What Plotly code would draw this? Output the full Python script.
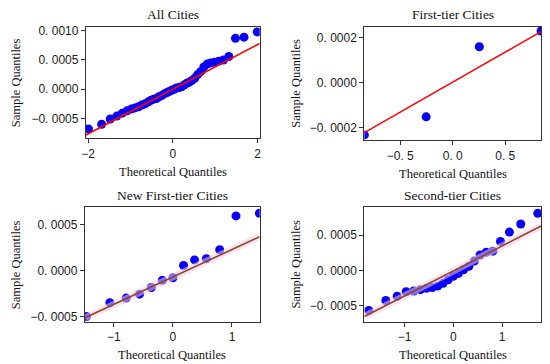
import plotly.graph_objects as go

# ---------------- data ----------------
titles = ["All Cities", "First-tier Cities", "New First-tier Cities", "Second-tier Cities"]

all_x = [-1.991, -1.680, -1.477, -1.322, -1.194, -1.083, -0.983, -0.893, -0.809, -0.731,
         -0.657, -0.586, -0.518, -0.452, -0.388, -0.326, -0.265, -0.205, -0.146, -0.087,
         -0.029, 0.029, 0.087, 0.146, 0.205, 0.265, 0.326, 0.388, 0.452, 0.518,
         0.586, 0.657, 0.731, 0.809, 0.893, 0.983, 1.083, 1.194, 1.322, 1.477,
         1.680, 1.991]
all_y = [-0.00068, -0.00060, -0.00051, -0.00046, -0.00041, -0.00037, -0.00034, -0.00032, -0.00030, -0.00027,
         -0.00025, -0.00022, -0.00019, -0.00017, -0.00016, -0.00013, -0.00011, -0.00008, -0.00006, -0.00004,
         -0.00002, 0.00000, 0.00002, 0.00003, 0.00004, 0.00007, 0.00010, 0.00012, 0.00015, 0.00019,
         0.00025, 0.00030, 0.00038, 0.00043, 0.00045, 0.00046, 0.00048, 0.00050, 0.00056, 0.00087,
         0.00089, 0.00098]

first_x = [-0.8416, -0.2533, 0.2533, 0.8416]
first_y = [-0.000232, -0.000152, 0.000159, 0.000229]

newfirst_x = [-1.465, -1.068, -0.792, -0.566, -0.366, -0.180, 0.0, 0.180, 0.366, 0.566, 0.792, 1.068, 1.465]
newfirst_y = [-0.000502, -0.000351, -0.000301, -0.000258, -0.000186, -0.000108, -0.000079,
              0.000054, 0.000115, 0.000129, 0.000226, 0.000595, 0.000624]

second_x = [-1.732, -1.383, -1.150, -0.967, -0.812, -0.674, -0.549, -0.431, -0.319, -0.210, -0.105, 0.0,
            0.105, 0.210, 0.319, 0.431, 0.549, 0.674, 0.812, 0.967, 1.150, 1.383, 1.732]
second_y = [-0.000564, -0.000424, -0.000363, -0.000300, -0.000290, -0.000270, -0.000250, -0.000240,
            -0.000220, -0.000180, -0.000130, -0.000080, -0.000040, 0.000010, 0.000060, 0.000134,
            0.000220, 0.000260, 0.000275, 0.000413, 0.000545, 0.000660, 0.000810]

# fitted reference lines (intercept, slope)
line_params = [(0.0, 0.000382), (0.000002, 0.000266), (-0.0000705, 0.000299), (-0.000006, 0.000354)]

x_ranges = [(-2.05, 2.05), (-0.8416, 0.8416), (-1.49, 1.47), (-1.823, 1.80)]
y_ranges = [(-0.000837, 0.00107), (-0.000255, 0.000248), (-0.000557, 0.00069), (-0.000722, 0.000898)]

x_ticks = [[-2, 0, 2], [-0.5, 0.0, 0.5], [-1, 0, 1], [-1, 0, 1]]
x_ticktext = [["−2", "0", "2"], ["−0. 5", "0. 0", "0. 5"], ["−1", "0", "1"], ["−1", "0", "1"]]
y_ticks = [[-0.0005, 0.0, 0.0005, 0.0010], [-0.0002, 0.0, 0.0002],
           [-0.0005, 0.0, 0.0005], [-0.0005, 0.0, 0.0005]]
y_ticktext = [["−0. 0005", "0. 0000", "0. 0005", "0. 0010"], ["−0. 0002", "0. 0000", "0. 0002"],
              ["−0. 0005", "0. 0000", "0. 0005"], ["−0. 0005", "0. 0000", "0. 0005"]]

xs = [all_x, first_x, newfirst_x, second_x]
ys = [all_y, first_y, newfirst_y, second_y]

# ---------------- layout geometry (pixels) ----------------
W, H = 550, 364
boxes = [(82, 258, 24, 137), (364, 543, 24, 139), (81, 258, 207, 323), (364, 543, 207, 323)]
ytitle_x = [12, 295, 12, 295]
line_colors = ["#ff0000", "#ff0000", "#8b4a1a", "#8b4a1a"]
halo = [False, False, True, True]

fig = go.Figure()
layout = dict(width=W, height=H, margin=dict(l=0, r=0, t=0, b=0),
              plot_bgcolor="white", paper_bgcolor="white", showlegend=False,
              annotations=[])

serif = "Liberation Serif, Times New Roman, serif"
sans = "Liberation Sans, Arial, sans-serif"

for k in range(4):
    xa = "x" if k == 0 else f"x{k+1}"
    ya = "y" if k == 0 else f"y{k+1}"
    x0, x1, y0, y1 = boxes[k]
    b, m = line_params[k]
    lx = list(x_ranges[k])
    ly = [b + m * v for v in lx]
    fig.add_trace(go.Scatter(x=xs[k], y=ys[k], mode="markers", xaxis=xa, yaxis=ya,
                             marker=dict(color="#0a00f5", size=9, line=dict(width=0)),
                             cliponaxis=True))
    if halo[k]:
        fig.add_trace(go.Scatter(x=lx, y=ly, mode="lines", xaxis=xa, yaxis=ya,
                                 line=dict(color="rgba(250,200,240,0.55)", width=7)))
    fig.add_trace(go.Scatter(x=lx, y=ly, mode="lines", xaxis=xa, yaxis=ya,
                             line=dict(color=line_colors[k], width=1.6)))
    axis_common = dict(showgrid=False, zeroline=False, showline=True, mirror=True,
                       linecolor="#333333", linewidth=1.2, ticks="outside", ticklen=4,
                       tickcolor="#333333", tickfont=dict(family=sans, size=12, color="#1a1a1a"))
    layout["xaxis" if k == 0 else f"xaxis{k+1}"] = dict(
        domain=[x0 / W, x1 / W], anchor=ya, range=list(x_ranges[k]),
        tickvals=x_ticks[k], ticktext=x_ticktext[k], **axis_common)
    layout["yaxis" if k == 0 else f"yaxis{k+1}"] = dict(
        domain=[1 - y1 / H, 1 - y0 / H], anchor=xa, range=list(y_ranges[k]),
        tickvals=y_ticks[k], ticktext=y_ticktext[k], **axis_common)
    cx = (x0 + x1) / 2
    layout["annotations"] += [
        dict(text=titles[k], x=cx / W, y=1 - (y0 - 12) / H, xref="paper", yref="paper",
             showarrow=False, font=dict(family=serif, size=13.5, color="#111111"),
             xanchor="center", yanchor="middle"),
        dict(text="Theoretical Quantiles", x=cx / W, y=1 - (y1 + 34) / H, xref="paper", yref="paper",
             showarrow=False, font=dict(family=serif, size=12.5, color="#111111"),
             xanchor="center", yanchor="middle"),
        dict(text="Sample Quantiles", x=ytitle_x[k] / W, y=1 - ((y0 + y1) / 2) / H, xref="paper", yref="paper",
             showarrow=False, textangle=-90, font=dict(family=serif, size=12.5, color="#111111"),
             xanchor="center", yanchor="middle"),
    ]

fig.update_layout(**layout)
fig.write_html("out.html", config={"displayModeBar": False},
               post_script="document.body.style.margin='0px';document.body.style.overflow='hidden';")
